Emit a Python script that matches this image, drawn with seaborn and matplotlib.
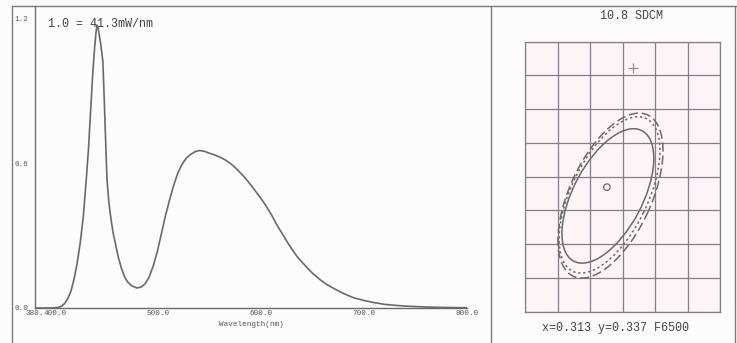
import numpy as np
import pandas as pd
import matplotlib
matplotlib.use("Agg")
import matplotlib.pyplot as plt
from matplotlib.lines import Line2D
from matplotlib.patches import Ellipse
import seaborn as sns

# spectrum (relative units, 1.0 = 41.3 mW/nm)
wavelength = [380, 390, 396, 400, 403, 406, 409, 412, 415, 418, 421, 424, 427, 430, 432,
              434, 436, 438, 439.3, 440.3, 441.3, 442.5, 444, 446, 447, 448, 449, 450, 452,
              454, 456, 458, 461, 464, 467, 470, 474, 479, 483, 487, 491, 495, 499, 503,
              507, 511, 515, 519, 523, 527, 531, 536, 540, 545, 550, 555, 560, 565, 570,
              575, 580, 585, 590, 595, 600, 605, 610, 615, 620, 625, 630, 635, 640, 645,
              650, 655, 660, 665, 670, 675, 680, 690, 700, 710, 720, 730, 740, 750, 760,
              770, 780, 790, 800]
power = [0.0, 0.0, 0.0, 0.001, 0.003, 0.008, 0.02, 0.04, 0.07, 0.12, 0.186, 0.27, 0.38, 0.54, 0.66,
         0.81, 0.96, 1.08, 1.14, 1.17, 1.16, 1.13, 1.09, 1.02, 0.90, 0.78, 0.65, 0.53, 0.43,
         0.364, 0.31, 0.27, 0.21, 0.165, 0.13, 0.108, 0.092, 0.083, 0.086, 0.10, 0.128, 0.175, 0.235, 0.31,
         0.385, 0.45, 0.51, 0.56, 0.595, 0.62, 0.635, 0.648, 0.652, 0.648, 0.64, 0.633, 0.624, 0.613, 0.598,
         0.58, 0.558, 0.535, 0.508, 0.48, 0.452, 0.42, 0.385, 0.345, 0.31, 0.275, 0.242, 0.212, 0.188, 0.165,
         0.143, 0.125, 0.108, 0.094, 0.082, 0.071, 0.06, 0.042, 0.031, 0.022, 0.015, 0.011, 0.008, 0.006, 0.004,
         0.003, 0.002, 0.0015, 0.001]

x_ticks = [380, 400, 500, 600, 700, 800]
x_labels = ["380.", "400.0", "500.0", "600.0", "700.0", "800.0"]
y_ticks = [0.0, 0.6, 1.2]
y_labels = ["0.0", "0.6", "1.2"]

# colour target plot, in grid-cell units (6 x 8 cells)
ellipse_names = ["solid", "dotted", "dashed"]
ellipse_cx = [2.55, 2.60, 2.63]
ellipse_cy = [3.43, 3.46, 3.44]
ellipse_a = [2.20, 2.53, 2.65]     # semi-major
ellipse_b = [1.06, 1.17, 1.25]     # semi-minor
ellipse_angle = [61.0, 63.0, 64.0]
point_circle = (2.52, 3.69)
point_cross = (3.32, 7.22)

sns.set_theme(style="white")
plt.rcParams["font.family"] = ["Liberation Mono", "DejaVu Sans Mono"]

line_col = "#6a6a6a"
W, H = 737, 343
fig = plt.figure(figsize=(W / 100, H / 100), dpi=100)
fig.patch.set_facecolor("#fdfbfc")

# ---- spectrum panel
ax = fig.add_axes([35 / W, 1 - 308 / H, (467 - 35) / W, (308 - 6) / H])
ax.set_facecolor("none")
df = pd.DataFrame({"wl": wavelength, "p": power})
sns.lineplot(data=df, x="wl", y="p", ax=ax, color=line_col, lw=1.2)
ax.set_xlim(380, 800)
ax.set_ylim(0, 1.25)
ax.set_xticks(x_ticks)
ax.set_xticklabels(x_labels, fontsize=5.5, color="#555555")
ax.set_yticks(y_ticks)
ax.set_yticklabels(y_labels, fontsize=5.5, color="#555555")
ax.tick_params(axis="both", length=3, width=0.8, color=line_col, pad=1.5)
ax.tick_params(axis="x", direction="in")
ax.set_xlabel("Wavelength(nm)", fontsize=5.5, color="#555555", labelpad=3)
ax.set_ylabel("")
for s in ["top", "right"]:
    ax.spines[s].set_visible(False)
for s in ["left", "bottom"]:
    ax.spines[s].set_color(line_col)
    ax.spines[s].set_linewidth(1.0)
ax.text(0.03, 0.94, "1.0 = 41.3mW/nm", transform=ax.transAxes, fontsize=8.5,
        color="#444444", ha="left", va="center")

# ---- SDCM panel
ax2 = fig.add_axes([525 / W, 1 - 311.7 / H, 195 / W, 270 / H])
ax2.set_facecolor("#fcf4f7")
ax2.set_xlim(0, 6)
ax2.set_ylim(0, 8)
ax2.set_xticks(range(0, 7))
ax2.set_yticks(range(0, 9))
ax2.grid(True, color="#857d88", lw=0.9)
ax2.tick_params(length=0, labelbottom=False, labelleft=False)
for s in ax2.spines.values():
    s.set_color("#857d88")
    s.set_linewidth(0.9)

styles = {"solid": "-", "dotted": (0, (1.5, 1.8)), "dashed": (0, (6, 2.5))}
for name, cx, cy, a, b, ang in zip(ellipse_names, ellipse_cx, ellipse_cy,
                                  ellipse_a, ellipse_b, ellipse_angle):
    ax2.add_patch(Ellipse((cx, cy), 2 * a, 2 * b, angle=ang, fill=False,
                          ec=line_col, lw=1.1, ls=styles[name]))
ax2.scatter([point_circle[0]], [point_circle[1]], s=22, facecolors="none",
            edgecolors=line_col, linewidths=0.9, zorder=3)
ax2.scatter([point_cross[0]], [point_cross[1]], s=60, marker="+",
            color="#9a9097", linewidths=0.9, zorder=3)

fig.text(632 / W, 1 - 16 / H, "10.8 SDCM", fontsize=8.5, color="#444444",
         ha="center", va="center")
fig.text(616 / W, 1 - 328 / H, "x=0.313 y=0.337 F6500", fontsize=8.5,
         color="#444444", ha="center", va="center")

# scanned page frame
for xs, ys in [([12, 737], [6, 6]), ([12, 12], [6, 343]),
               ([491, 491], [6, 343]), ([735, 735], [6, 343])]:
    fig.add_artist(Line2D([x / W for x in xs], [1 - y / H for y in ys],
                          color="#7a7a7a", lw=1.0))

fig.savefig("out.png", dpi=100, facecolor=fig.get_facecolor())
